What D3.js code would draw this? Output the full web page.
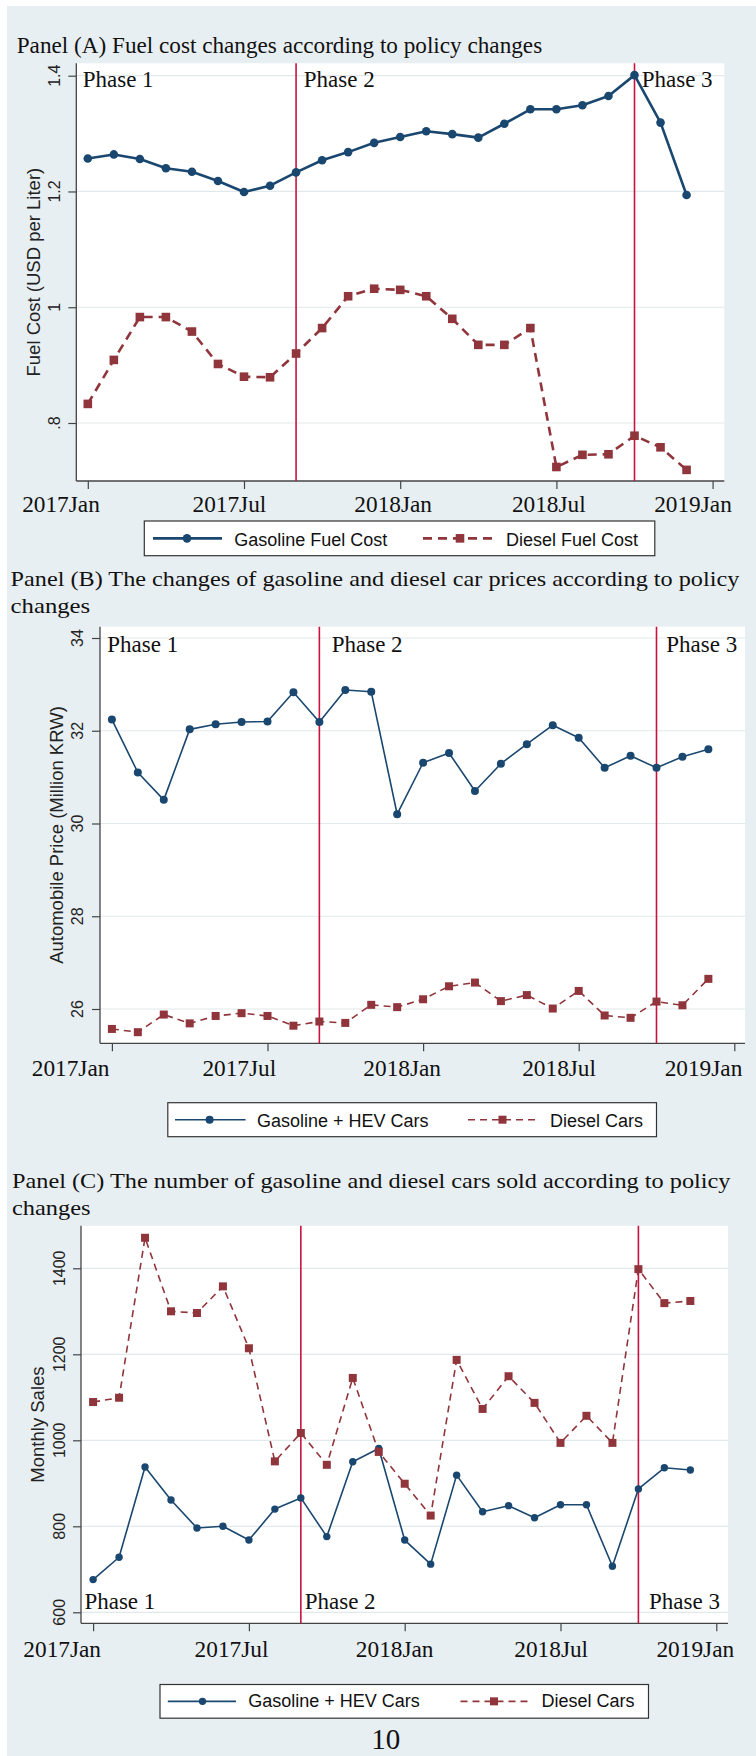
<!DOCTYPE html>
<html><head><meta charset="utf-8">
<script src="https://cdn.jsdelivr.net/npm/d3@7"></script>
<style>html,body{margin:0;padding:0;background:#fff;}svg{display:block;}</style>
</head><body><div id="chart"></div>
<script>
// ---------------- DATA ----------------
const monthIndex = d3.range(24); // 2017Jan .. 2018Dec
const xTickMonths = [0, 6, 12, 18, 24];
const xTickLabels = ["2017Jan", "2017Jul", "2018Jan", "2018Jul", "2019Jan"];
const phaseMonths = [8, 21]; // 2017Sep, 2018Oct
const phaseLabels = ["Phase 1", "Phase 2", "Phase 3"];

// Panel A: fuel cost (USD per liter)
const fuelGasoline = [1.257,1.264,1.256,1.240,1.234,1.218,1.199,1.210,1.233,1.254,1.268,1.284,
                      1.294,1.304,1.299,1.293,1.317,1.342,1.342,1.349,1.365,1.401,1.319,1.194];
const fuelDiesel   = [0.833,0.909,0.983,0.983,0.958,0.902,0.880,0.879,0.920,0.964,1.019,1.032,
                      1.030,1.019,0.980,0.935,0.935,0.964,0.724,0.745,0.746,0.778,0.758,0.719];
const yTicksA = [0.8, 1, 1.2, 1.4];
const yTickLabelsA = [".8", "1", "1.2", "1.4"];
const legendA = ["Gasoline Fuel Cost", "Diesel Fuel Cost"];

// Panel B: automobile price (million KRW)
const priceGasoline = [32.24,31.10,30.51,32.03,32.14,32.19,32.20,32.83,32.19,32.88,32.84,30.20,
                       31.31,31.52,30.70,31.29,31.71,32.12,31.85,31.20,31.46,31.20,31.44,31.60];
const priceDiesel   = [25.57,25.50,25.88,25.69,25.85,25.91,25.85,25.64,25.73,25.70,26.09,26.04,
                       26.21,26.49,26.57,26.17,26.30,26.01,26.39,25.86,25.81,26.16,26.08,26.65];
const yTicksB = [26, 28, 30, 32, 34];
const legendB = ["Gasoline + HEV Cars", "Diesel Cars"];

// Panel C: monthly sales
const salesGasoline = [676,728,938,861,796,800,768,840,866,776,950,981,
                       768,712,919,834,848,820,850,850,707,887,936,931];
const salesDiesel   = [1089,1099,1471,1300,1296,1358,1214,951,1017,943,1145,973,
                       899,825,1187,1073,1149,1087,994,1057,994,1398,1319,1324];
const yTicksC = [600, 800, 1000, 1200, 1400];
const legendC = ["Gasoline + HEV Cars", "Diesel Cars"];

const titles = {
  A: ["Panel (A) Fuel cost changes according to policy changes"],
  B: ["Panel (B) The changes of gasoline and diesel car prices according to policy", "changes"],
  C: ["Panel (C) The number of gasoline and diesel cars sold according to policy", "changes"]
};
const yTitles = { A: "Fuel Cost (USD per Liter)", B: "Automobile Price (Million KRW)", C: "Monthly Sales" };
const pageNumber = "10";

// ---------------- STYLE / LAYOUT ----------------
const W = 756, H = 1756;
const BG = "#e8eff2", NAVY = "#1a476f", MAROON = "#90353b", PHASE = "#c8123f", GRID = "#e2e9ec", AXIS = "#444";
const SERIF = "'Liberation Serif','Times New Roman',serif";
const SANS = "'Liberation Sans',Arial,Helvetica,sans-serif";

const panels = [
  { key: "A", g: fuelGasoline, d: fuelDiesel, yTicks: yTicksA, yLabels: yTickLabelsA, legend: legendA,
    plot: {x0: 76.3, x1: 724.3, y0: 63.3, y1: 481},
    xr: [87.8, 712.6], yd: [0.8, 1.4], yr: [423, 75.7],
    titleX: 16.7, titleY: [53.3], titleSize: 23, titleLen: [525.5], ytickX: 54, ytitleX: 33.7,
    xLabOff: [-26.8, -14.6, -7, -7.6, -19.6], xLabY: 511.7,
    phaseY: 87, phaseX: [82.7, 303.8, 641.7],
    lw: 2.6, r: 4.3, sq: 8.6, dash: "9,6",
    leg: {x0: 144.3, x1: 654.8, y0: 521, y1: 555.7, s1: [153, 222], m1: 187, t1: 234.3, s2: [423, 494], m2: 460, t2: 506, base: 545.7} },
  { key: "B", g: priceGasoline, d: priceDiesel, yTicks: yTicksB, yLabels: yTicksB.map(String), legend: legendB,
    plot: {x0: 100, x1: 745, y0: 626.7, y1: 1043.3},
    xr: [111.9, 734.3], yd: [26, 34], yr: [1009, 638],
    titleX: 10.6, titleY: [586, 613], titleSize: 22, titleLen: [728.7, 79.6], ytickX: 77.7, ytitleX: 56.7,
    xLabOff: [-41.3, -28.2, -20.9, -19.6, -30.8], xLabY: 1075.5,
    phaseY: 651.7, phaseX: [107.3, 331.7, 666.3],
    lw: 1.6, r: 4, sq: 8, dash: "7,5",
    leg: {x0: 167.8, x1: 656.5, y0: 1102.7, y1: 1136.7, s1: [175, 245.6], m1: 209.6, t1: 257, s2: [468, 537], m2: 502.5, t2: 550, base: 1126.7} },
  { key: "C", g: salesGasoline, d: salesDiesel, yTicks: yTicksC, yLabels: yTicksC.map(String), legend: legendC,
    plot: {x0: 81, x1: 728, y0: 1225.8, y1: 1623.3},
    xr: [93.1, 716.3], yd: [600, 1400], yr: [1612.3, 1268.3],
    titleX: 12, titleY: [1188, 1215], titleSize: 22, titleLen: [718.5, 78.6], ytickX: 59, ytitleX: 37.9,
    xLabOff: [-30.9, -17.4, -10, -9.3, -21], xLabY: 1657.3,
    phaseY: 1609, phaseX: [84.4, 304.7, 649],
    lw: 1.6, r: 3.7, sq: 8, dash: "7,5",
    leg: {x0: 160, x1: 648.5, y0: 1684.5, y1: 1718.2, s1: [167.8, 236], m1: 202.5, t1: 248.3, s2: [460.5, 530.4], m2: 494, t2: 541.5, base: 1707.3} }
];

// ---------------- DRAW ----------------
const svg = d3.select("#chart").append("svg").attr("width", W).attr("height", H);
svg.append("rect").attr("width", W).attr("height", H).attr("fill", "#fff");
svg.append("rect").attr("x", 7).attr("y", 6).attr("width", W - 7).attr("height", H - 6).attr("fill", BG);

panels.forEach(p => {
  const g = svg.append("g");
  const x = d3.scaleLinear().domain([0, 24]).range(p.xr);
  const y = d3.scaleLinear().domain(p.yd).range(p.yr);
  const P = p.plot;

  // title
  p.titleY.forEach((ty, i) => {
    g.append("text").attr("x", p.titleX).attr("y", ty).attr("font-family", SERIF).attr("font-size", p.titleSize)
      .attr("textLength", p.titleLen[i]).attr("lengthAdjust", "spacingAndGlyphs")
      .attr("fill", "#111").text(titles[p.key][i]);
  });

  // plot region
  g.append("rect").attr("x", P.x0).attr("y", P.y0).attr("width", P.x1 - P.x0).attr("height", P.y1 - P.y0).attr("fill", "#fff");

  // gridlines
  g.selectAll(".grid").data(p.yTicks).join("line")
    .attr("x1", P.x0).attr("x2", P.x1).attr("y1", d => y(d)).attr("y2", d => y(d))
    .attr("stroke", GRID).attr("stroke-width", 1.2);

  // y axis
  const yAxis = d3.axisLeft(y).tickValues(p.yTicks).tickSize(8).tickFormat("");
  const ya = g.append("g").attr("transform", `translate(${P.x0},0)`).call(yAxis);
  ya.select(".domain").remove();
  ya.selectAll(".tick line").attr("stroke", AXIS).attr("stroke-width", 1.2);
  g.append("line").attr("x1", P.x0).attr("x2", P.x0).attr("y1", P.y0).attr("y2", P.y1).attr("stroke", AXIS).attr("stroke-width", 1.3);
  g.selectAll(".ylab").data(p.yTicks).join("text")
    .attr("transform", d => `translate(${p.ytickX},${y(d)}) rotate(-90)`)
    .attr("text-anchor", "middle").attr("dominant-baseline", "central")
    .attr("font-family", SANS).attr("font-size", 16).attr("fill", "#222")
    .text((d, i) => p.yLabels[i]);
  g.append("text").attr("transform", `translate(${p.ytitleX},${(P.y0 + P.y1) / 2}) rotate(-90)`)
    .attr("text-anchor", "middle").attr("dominant-baseline", "central")
    .attr("font-family", SANS).attr("font-size", 18.5).attr("fill", "#222").text(yTitles[p.key]);

  // x axis
  const xAxis = d3.axisBottom(x).tickValues(xTickMonths).tickSize(8).tickFormat("");
  const xa = g.append("g").attr("transform", `translate(0,${P.y1})`).call(xAxis);
  xa.select(".domain").remove();
  xa.selectAll(".tick line").attr("stroke", AXIS).attr("stroke-width", 1.2);
  g.append("line").attr("x1", P.x0).attr("x2", P.x1).attr("y1", P.y1).attr("y2", P.y1).attr("stroke", AXIS).attr("stroke-width", 1.3);
  g.selectAll(".xlab").data(xTickMonths).join("text")
    .attr("x", (d, i) => x(d) + p.xLabOff[i]).attr("y", p.xLabY)
    .attr("text-anchor", "middle").attr("font-family", SERIF).attr("font-size", 23.3).attr("fill", "#111")
    .text((d, i) => xTickLabels[i]);

  // phase lines
  g.selectAll(".phase").data(phaseMonths).join("line")
    .attr("x1", d => x(d)).attr("x2", d => x(d)).attr("y1", P.y0).attr("y2", P.y1)
    .attr("stroke", PHASE).attr("stroke-width", 1.6);

  // series
  const line = d3.line().x((d, i) => x(monthIndex[i])).y(d => y(d));
  g.append("path").datum(p.g).attr("d", line).attr("fill", "none").attr("stroke", NAVY).attr("stroke-width", p.lw).attr("stroke-linejoin", "round");
  g.selectAll(".gm").data(p.g).join("circle")
    .attr("cx", (d, i) => x(monthIndex[i])).attr("cy", d => y(d)).attr("r", p.r).attr("fill", NAVY);
  g.append("path").datum(p.d).attr("d", line).attr("fill", "none").attr("stroke", MAROON).attr("stroke-width", p.lw).attr("stroke-dasharray", p.dash);
  g.selectAll(".dm").data(p.d).join("rect")
    .attr("x", (d, i) => x(monthIndex[i]) - p.sq / 2).attr("y", d => y(d) - p.sq / 2)
    .attr("width", p.sq).attr("height", p.sq).attr("fill", MAROON);

  // phase labels
  g.selectAll(".plab").data(phaseLabels).join("text")
    .attr("x", (d, i) => p.phaseX[i]).attr("y", p.phaseY)
    .attr("font-family", SERIF).attr("font-size", 23).attr("fill", "#111").text(d => d);

  // legend
  const L = p.leg;
  g.append("rect").attr("x", L.x0).attr("y", L.y0).attr("width", L.x1 - L.x0).attr("height", L.y1 - L.y0)
    .attr("fill", "#fff").attr("stroke", "#333").attr("stroke-width", 1.2);
  const ly = (L.y0 + L.y1) / 2;
  g.append("line").attr("x1", L.s1[0]).attr("x2", L.s1[1]).attr("y1", ly).attr("y2", ly).attr("stroke", NAVY).attr("stroke-width", p.lw);
  g.append("circle").attr("cx", L.m1).attr("cy", ly).attr("r", p.r).attr("fill", NAVY);
  g.append("line").attr("x1", L.s2[0]).attr("x2", L.s2[1]).attr("y1", ly).attr("y2", ly).attr("stroke", MAROON).attr("stroke-width", p.lw).attr("stroke-dasharray", p.dash);
  g.append("rect").attr("x", L.m2 - p.sq / 2).attr("y", ly - p.sq / 2).attr("width", p.sq).attr("height", p.sq).attr("fill", MAROON);
  g.append("text").attr("x", L.t1).attr("y", L.base).attr("font-family", SANS).attr("font-size", 18).attr("fill", "#111").text(p.legend[0]);
  g.append("text").attr("x", L.t2).attr("y", L.base).attr("font-family", SANS).attr("font-size", 18).attr("fill", "#111").text(p.legend[1]);
});

svg.append("text").attr("x", 385.7).attr("y", 1749).attr("text-anchor", "middle")
  .attr("font-family", SERIF).attr("font-size", 29).attr("fill", "#111").text(pageNumber);
</script>
</body></html>
